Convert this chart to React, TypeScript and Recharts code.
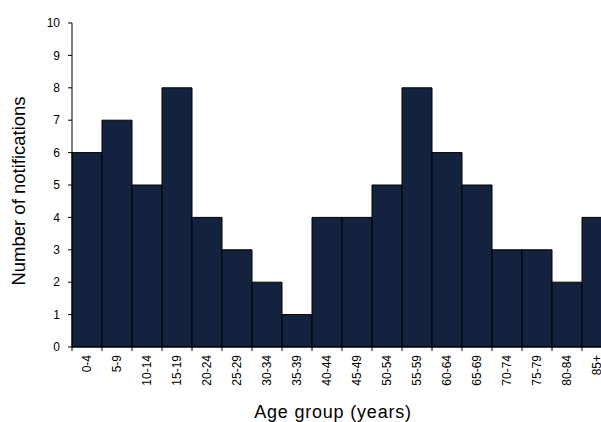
import React from 'react';
import { BarChart, Bar, XAxis, YAxis } from 'recharts';

const ageGroups = ['0-4','5-9','10-14','15-19','20-24','25-29','30-34','35-39','40-44','45-49','50-54','55-59','60-64','65-69','70-74','75-79','80-84','85+'];
const notifications = [6,7,5,8,4,3,2,1,4,4,5,8,6,5,3,3,2,4];
const yTicks = [0,1,2,3,4,5,6,7,8,9,10];

const data = ageGroups.map((g, i) => ({ group: g, value: notifications[i] }));

const FONT = '"Liberation Sans", Arial, Helvetica, sans-serif';
const CHART_W = 620;
const PLOT_LEFT = 72;
const PLOT_RIGHT_MARGIN = 8;
const HALF_BAND = (CHART_W - PLOT_LEFT - PLOT_RIGHT_MARGIN) / ageGroups.length / 2;

const XTick = (props: any) => {
  const { x, y, payload } = props;
  return (
    <g>
      <line x1={x - HALF_BAND} x2={x - HALF_BAND} y1={y} y2={y + 4} stroke="#000" strokeWidth={1} />
      <text
        x={x}
        y={y + 8}
        transform={`rotate(-90 ${x} ${y + 8})`}
        textAnchor="end"
        dominantBaseline="central"
        fontSize={12}
        fontFamily={FONT}
        fill="#000"
      >
        {payload.value}
      </text>
    </g>
  );
};

const XLabel = (props: any) => {
  const { viewBox } = props;
  return (
    <text x={viewBox.x + viewBox.width / 2 - 9} y={418} textAnchor="middle" fontSize={18} letterSpacing={0.8} fontFamily={FONT} fill="#000">
      Age group (years)
    </text>
  );
};

const YLabel = () => (
  <text x={25} y={191} transform="rotate(-90 25 191)" textAnchor="middle" fontSize={18.5} fontFamily={FONT} fill="#000">
    Number of notifications
  </text>
);

export default function App() {
  return (
    <div style={{ position: 'absolute', left: 0, top: 0, width: 601, height: 422, overflow: 'hidden', background: '#fff' }}>
      <BarChart
        width={CHART_W}
        height={422}
        data={data}
        margin={{ top: 23, right: PLOT_RIGHT_MARGIN, left: 0, bottom: 0 }}
        barCategoryGap={0}
        barGap={0}
      >
        <XAxis
          dataKey="group"
          interval={0}
          height={75}
          tickLine={false}
          tickSize={0}
          tickMargin={0}
          axisLine={{ stroke: '#000', strokeWidth: 1 }}
          tick={<XTick />}
          label={<XLabel />}
        />
        <YAxis
          width={PLOT_LEFT}
          domain={[0, 10]}
          ticks={yTicks}
          interval={0}
          tickSize={4}
          tickMargin={8}
          axisLine={{ stroke: '#000', strokeWidth: 1 }}
          tickLine={{ stroke: '#000', strokeWidth: 1 }}
          tick={{ fill: '#000', fontSize: 12, fontFamily: FONT }}
          label={<YLabel />}
        />
        <Bar dataKey="value" fill="#13233F" stroke="#000" strokeWidth={1} isAnimationActive={false} />
      </BarChart>
    </div>
  );
}
